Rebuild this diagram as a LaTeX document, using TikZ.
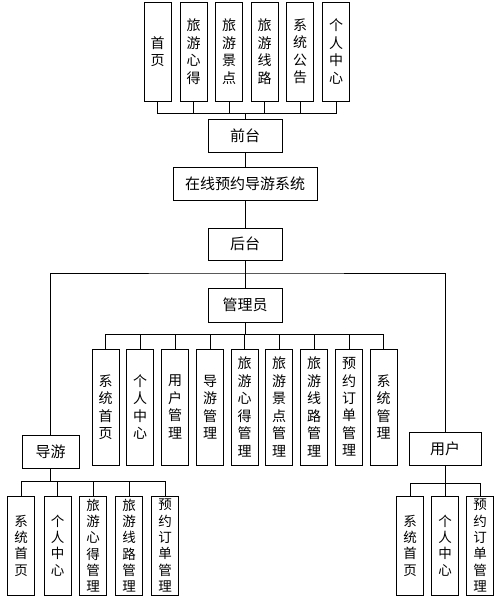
\documentclass[tikz,border=0pt]{standalone}
\usepackage{fontspec}
\newfontfamily\cjk{Noto Sans CJK SC}
\usetikzlibrary{calc, positioning}
\newcommand\modbox[5]{\node[#1] (#2) at (#3,#4) {#5};}

\begin{document}
\begin{tikzpicture}[x=1pt, y=-1pt,
  modn/.style={draw=black, line width=0.9pt, minimum width=27pt, minimum height=99pt, inner sep=0pt, align=center, font=\cjk\fontsize{14}{17.5}\selectfont},
  tallmod/.style={modn, minimum height=116pt},
  lowmod/.style={modn, font=\cjk\fontsize{13.5}{16.3}\selectfont},
  flatn/.style={draw=black, line width=0.9pt, minimum height=33pt, inner sep=0pt, font=\cjk\fontsize{15}{18}\selectfont},
  link/.style={line width=0.9pt}]
\useasboundingbox (0,0) rectangle (500,600);

% front end modules
\modbox{modn}{t1}{157.5}{51.5}{首\\页}
\modbox{modn}{t2}{193.5}{51.5}{旅\\游\\心\\得}
\modbox{modn}{t3}{229}{51.5}{旅\\游\\景\\点}
\modbox{modn}{t4}{264.5}{51.5}{旅\\游\\线\\路}
\modbox{modn}{t5}{300}{51.5}{系\\统\\公\\告}
\modbox{modn}{t6}{336}{51.5}{个\\人\\中\\心}

\node[flatn, minimum width=74pt] (qiantai) at (245,135.5) {前台};
\node[flatn, minimum width=144pt] (xitong) at (245,183.5) {在线预约导游系统};
\node[flatn, minimum width=74pt, minimum height=32pt] (houtai) at (245,244) {后台};
\node[flatn, minimum width=74pt, minimum height=34pt] (guanli) at (245,305) {管理员};
\node[flatn, minimum width=57pt] (daoyou) at (50.5,451.5) {导游};
\node[flatn, minimum width=72pt] (yonghu) at (445,448.5) {用户};

% admin modules
\modbox{tallmod}{a1}{105.5}{407}{系\\统\\首\\页}
\modbox{tallmod}{a2}{140}{407}{个\\人\\中\\心}
\modbox{tallmod}{a3}{175}{407}{用\\户\\管\\理}
\modbox{tallmod}{a4}{210}{407}{导\\游\\管\\理}
\modbox{tallmod}{a5}{244.5}{407}{旅\\游\\心\\得\\管\\理}
\modbox{tallmod}{a6}{279}{407}{旅\\游\\景\\点\\管\\理}
\modbox{tallmod}{a7}{314}{407}{旅\\游\\线\\路\\管\\理}
\modbox{tallmod}{a8}{349}{407}{预\\约\\订\\单\\管\\理}
\modbox{tallmod}{a9}{383.5}{407}{系\\统\\管\\理}

% guide modules
\modbox{lowmod}{g1}{21}{545.5}{系\\统\\首\\页}
\modbox{lowmod}{g2}{57.5}{545.5}{个\\人\\中\\心}
\modbox{lowmod}{g3}{93}{545.5}{旅\\游\\心\\得\\管\\理}
\modbox{lowmod}{g4}{129}{545.5}{旅\\游\\线\\路\\管\\理}
\modbox{lowmod}{g5}{165}{545.5}{预\\约\\订\\单\\管\\理}

% user modules
\modbox{lowmod}{u1}{410}{545.5}{系\\统\\首\\页}
\modbox{lowmod}{u2}{445}{545.5}{个\\人\\中\\心}
\modbox{lowmod}{u3}{480}{545.5}{预\\约\\订\\单\\管\\理}

% connectors
\coordinate (topbus) at (245,113);
\coordinate (mainbus) at (245,273);
\coordinate (adminbus) at (245,334);
\coordinate (guidebus) at (50.5,481);
\coordinate (userbus) at (445,483);

\foreach \n in {t1,t2,t3,t4,t5,t6}
  \draw[link] (\n.south) |- (topbus);
\draw[link] (qiantai.north) -- (topbus);
\draw[link] (qiantai) -- (xitong);
\draw[link] (xitong) -- (houtai);
\draw[link] (houtai) -- (guanli);
\draw[link] (daoyou.north) |- (mainbus) -| (yonghu.north);
\draw[link] (guanli.south) -- (adminbus);
\foreach \n in {a1,a2,a3,a4,a5,a6,a7,a8,a9}
  \draw[link] (\n.north) |- (adminbus);
\draw[link] (daoyou.south) -- (guidebus);
\foreach \n in {g1,g2,g3,g4,g5}
  \draw[link] (\n.north) |- (guidebus);
\draw[link] (yonghu.south) -- (userbus);
\foreach \n in {u1,u2,u3}
  \draw[link] (\n.north) |- (userbus);

\end{tikzpicture}
\end{document}
